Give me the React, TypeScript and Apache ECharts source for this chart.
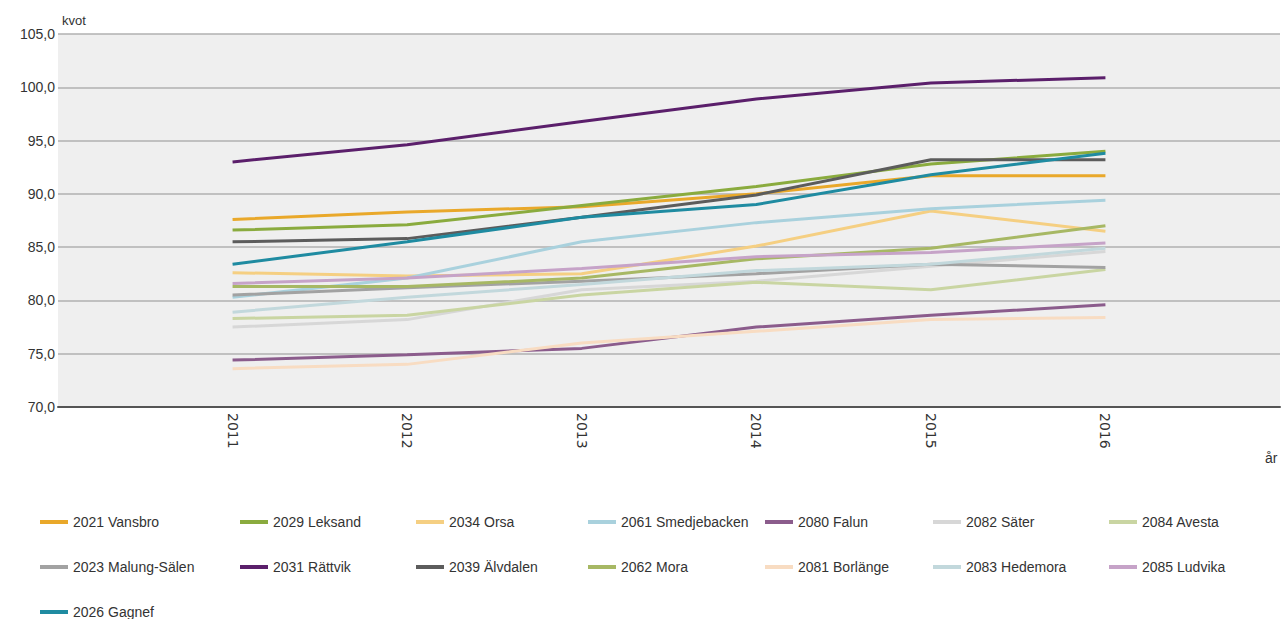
import React, { useEffect, useRef } from "react";
import * as echarts from "echarts";

// Years on the x axis
const years = [2011, 2012, 2013, 2014, 2015, 2016];

// Y axis tick range (kvot)
const yMin = 70;
const yMax = 105;
const yStep = 5;

// Series values per municipality, one value per year
const vansbro = [87.6, 88.3, 88.8, 90.0, 91.7, 91.7];
const leksand = [86.6, 87.1, 88.9, 90.7, 92.8, 94.0];
const orsa = [82.6, 82.3, 82.5, 85.1, 88.4, 86.5];
const smedjebacken = [80.3, 82.1, 85.5, 87.3, 88.6, 89.4];
const falun = [74.4, 74.9, 75.5, 77.5, 78.6, 79.6];
const sater = [77.5, 78.2, 81.0, 81.8, 83.2, 84.6];
const avesta = [78.3, 78.6, 80.5, 81.7, 81.0, 82.9];
const malungSalen = [80.5, 81.2, 81.8, 82.5, 83.4, 83.1];
const rattvik = [93.0, 94.6, 96.8, 98.9, 100.4, 100.9];
const alvdalen = [85.5, 85.8, 87.8, 89.9, 93.2, 93.2];
const mora = [81.3, 81.3, 82.1, 83.9, 84.9, 87.0];
const borlange = [73.6, 74.0, 76.0, 77.1, 78.2, 78.4];
const hedemora = [78.9, 80.3, 81.5, 82.8, 83.4, 84.9];
const ludvika = [81.6, 82.1, 83.0, 84.1, 84.5, 85.4];
const gagnef = [83.4, 85.5, 87.8, 89.0, 91.8, 93.8];

type S = { name: string; values: number[]; color: string };

const seriesList: S[] = [
  { name: "2021 Vansbro", values: vansbro, color: "#e9a82a" },
  { name: "2029 Leksand", values: leksand, color: "#8aab3e" },
  { name: "2034 Orsa", values: orsa, color: "#f5cf82" },
  { name: "2061 Smedjebacken", values: smedjebacken, color: "#a9d1dd" },
  { name: "2080 Falun", values: falun, color: "#8b5c8c" },
  { name: "2082 Säter", values: sater, color: "#d7d7d7" },
  { name: "2084 Avesta", values: avesta, color: "#c9d5a2" },
  { name: "2023 Malung-Sälen", values: malungSalen, color: "#a2a2a2" },
  { name: "2031 Rättvik", values: rattvik, color: "#5b1f6b" },
  { name: "2039 Älvdalen", values: alvdalen, color: "#5c5c5c" },
  { name: "2062 Mora", values: mora, color: "#a7b864" },
  { name: "2081 Borlänge", values: borlange, color: "#f8dcc2" },
  { name: "2083 Hedemora", values: hedemora, color: "#c2d8dc" },
  { name: "2085 Ludvika", values: ludvika, color: "#c6a3c8" },
  { name: "2026 Gagnef", values: gagnef, color: "#1f8ba1" },
];

// Legend laid out as a table: each column is its own vertical legend
const legendColumns: { left: number; names: string[] }[] = [
  { left: 40, names: ["2021 Vansbro", "2023 Malung-Sälen", "2026 Gagnef"] },
  { left: 240, names: ["2029 Leksand", "2031 Rättvik"] },
  { left: 416, names: ["2034 Orsa", "2039 Älvdalen"] },
  { left: 588, names: ["2061 Smedjebacken", "2062 Mora"] },
  { left: 765, names: ["2080 Falun", "2081 Borlänge"] },
  { left: 933, names: ["2082 Säter", "2083 Hedemora"] },
  { left: 1109, names: ["2084 Avesta", "2085 Ludvika"] },
];

const FONT = "Liberation Sans, Arial, sans-serif";

export default function App() {
  const ref = useRef<HTMLDivElement>(null);

  useEffect(() => {
    if (!ref.current) return;
    const chart = echarts.init(ref.current, undefined, { renderer: "svg" });

    chart.setOption({
      animation: false,
      backgroundColor: "#ffffff",
      textStyle: { fontFamily: FONT },
      grid: {
        left: 58,
        right: 4,
        top: 34,
        bottom: 212,
        show: true,
        backgroundColor: "#efefef",
        borderWidth: 0,
      },
      xAxis: {
        type: "value",
        min: 2010,
        max: 2017,
        interval: 1,
        axisLine: { show: true, lineStyle: { color: "#555555", width: 2 } },
        axisTick: { show: false },
        splitLine: { show: false },
        axisLabel: {
          rotate: -90,
          color: "#333333",
          fontSize: 14,
          fontFamily: "DejaVu Sans, sans-serif",
          margin: 6,
          formatter: (v: number) => (years.includes(v) ? String(v) : ""),
        },
      },
      yAxis: {
        type: "value",
        min: yMin,
        max: yMax,
        interval: yStep,
        name: "kvot",
        nameLocation: "end",
        nameGap: 7,
        nameTextStyle: {
          align: "left",
          color: "#333333",
          fontSize: 13,
          fontFamily: FONT,
          padding: [0, 0, 0, 4],
        },
        axisLine: { show: false },
        axisTick: { show: false },
        splitLine: { show: true, lineStyle: { color: "#b0b0b0", width: 1.5 } },
        axisLabel: {
          color: "#333333",
          fontSize: 14,
          fontFamily: FONT,
          margin: 3,
          formatter: (v: number) => v.toFixed(1).replace(".", ","),
        },
      },
      legend: legendColumns.map((col) => ({
        orient: "vertical",
        left: col.left,
        top: 515,
        padding: 0,
        itemGap: 31,
        itemWidth: 28,
        itemHeight: 4,
        icon: "rect",
        selectedMode: false,
        data: col.names,
        textStyle: { color: "#333333", fontSize: 14, fontFamily: FONT },
      })),
      graphic: [
        {
          type: "text",
          left: 1265,
          top: 451,
          style: { text: "år", fill: "#333333", font: `14px ${FONT}` },
        },
      ],
      series: seriesList.map((s) => ({
        name: s.name,
        type: "line",
        data: years.map((y, i) => [y, s.values[i]]),
        showSymbol: false,
        symbol: "none",
        color: s.color,
        lineStyle: { color: s.color, width: 3 },
        emphasis: { disabled: true },
      })),
    });

    return () => chart.dispose();
  }, []);

  return (
    <div
      ref={ref}
      style={{ position: "absolute", left: 0, top: 0, width: 1284, height: 619 }}
    />
  );
}
